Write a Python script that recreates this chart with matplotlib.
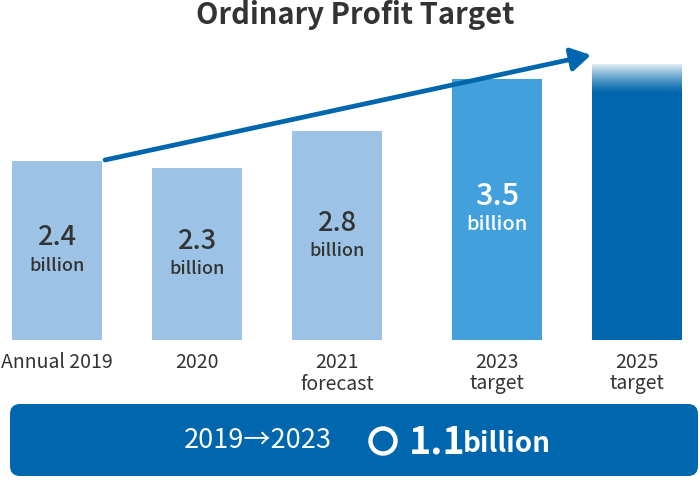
import matplotlib
matplotlib.use("Agg")
import matplotlib.pyplot as plt
import numpy as np
from matplotlib.patches import FancyBboxPatch, Circle

plt.rcParams['font.family'] = ['Noto Sans CJK JP', 'DejaVu Sans']

# ---- data ----
categories = ["Annual 2019", "2020", "2021\nforecast", "2023\ntarget", "2025\ntarget"]
values = [2.4, 2.3, 2.8, 3.5, 3.7]
value_labels = ["2.4", "2.3", "2.8", "3.5", None]
title = "Ordinary Profit Target"
banner_left = "2019\u21922023"
banner_value = "1.1"
banner_unit = "billion"

# ---- layout/style ----
W, H = 700, 480
x_pos = [57, 197, 337, 497, 637]
bar_w = 90
colors = ["#9cc3e6", "#9cc3e6", "#9cc3e6", "#42a0dd", "#0066ad"]
label_colors = ["#333333", "#333333", "#333333", "white", None]
label_sizes = [(19.5, 13), (19.5, 13), (19.5, 13), (22, 14.5), None]
label_weights = ["medium", "medium", "medium", "medium", None]
dark = "#333333"
blue = "#0066ad"
px_per_unit = 74.6
zero_px = 340  # from top

fig = plt.figure(figsize=(7, 4.8), dpi=100)
ax = fig.add_axes([0, 0, 1, 1])
ax.axis('off')

ax.bar(x_pos, values, width=bar_w, color=colors, zorder=2)

# fade the top of the last bar
fade_lo = values[-1] - 30 / px_per_unit
grad = np.zeros((64, 1, 4))
grad[..., :3] = 1.0
grad[:, 0, 3] = np.linspace(0.97, 0.0, 64) ** 1.3
ax.imshow(grad, extent=[x_pos[-1] - bar_w / 2, x_pos[-1] + bar_w / 2, fade_lo, values[-1] + 0.02],
          aspect='auto', origin='upper', zorder=3, interpolation='bilinear')
ax.set_xlim(0, W)
ax.set_ylim(-(H - zero_px) / px_per_unit, zero_px / px_per_unit)

# value labels
for x, v, lab, c, sz, wt in zip(x_pos, values, value_labels, label_colors, label_sizes, label_weights):
    if lab is None:
        continue
    ax.annotate(lab, (x, v / 2), xytext=(0, 9), textcoords='offset points',
                ha='center', va='center', fontsize=sz[0], fontweight=wt, color=c, zorder=4)
    ax.annotate("billion", (x, v / 2), xytext=(0, -11), textcoords='offset points',
                ha='center', va='center', fontsize=sz[1], fontweight=wt, color=c, zorder=4)

# category labels
for x, cat in zip(x_pos, categories):
    ax.annotate(cat, (x, 0), xytext=(0, -9), textcoords='offset points',
                ha='center', va='top', fontsize=14, color=dark, linespacing=1.0)

# overlay in pixel coords
ov = fig.add_axes([0, 0, 1, 1], facecolor='none')
ov.set_xlim(0, W)
ov.set_ylim(H, 0)
ov.axis('off')

ov.text(355, 15, title, ha='center', va='center', fontsize=21, fontweight='bold', color=dark)

# arrow
ov.annotate("", xy=(591, 55), xytext=(105, 160),
            arrowprops=dict(arrowstyle='-|>,head_length=0.85,head_width=0.5', color=blue,
                            lw=3.4, shrinkA=0, shrinkB=0, mutation_scale=14), zorder=5)

# banner
ov.add_patch(FancyBboxPatch((10, 404), 688, 72, boxstyle="round,pad=0,rounding_size=10",
                            facecolor=blue, edgecolor='none'))
ov.text(258, 440, banner_left, ha='center', va='center', fontsize=19.5, color='white')
ov.add_patch(Circle((383, 441), 12.5, facecolor='none', edgecolor='white', lw=3.2))
ov.text(409, 442, banner_value, ha='left', va='center', fontsize=27, fontweight='bold', color='white')
ov.text(463, 444, banner_unit, ha='left', va='center', fontsize=20, fontweight='bold', color='white')

fig.savefig("out.png", dpi=100)
